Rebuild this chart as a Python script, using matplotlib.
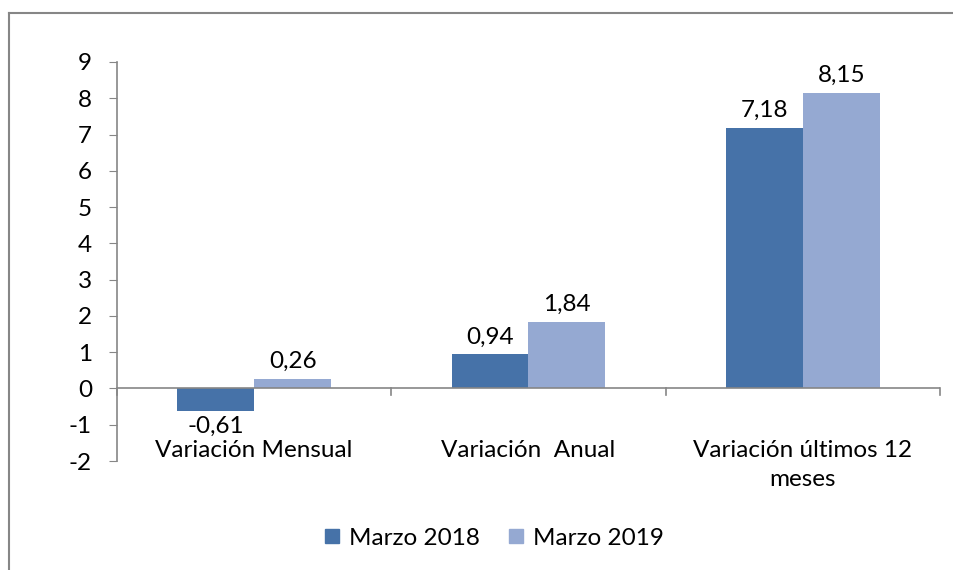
import matplotlib.pyplot as plt
from matplotlib.lines import Line2D
import numpy as np

plt.rcParams['font.family'] = ['Lato', 'DejaVu Sans']
plt.rcParams['axes.unicode_minus'] = False

# Datos
categorias = ['Variación Mensual', 'Variación  Anual', 'Variación últimos 12\nmeses']
marzo_2018 = [-0.61, 0.94, 7.18]
marzo_2019 = [0.26, 1.84, 8.15]
series = ['Marzo 2018', 'Marzo 2019']
colores = ['#4672A8', '#95A9D2']

FS = 17.5

fig = plt.figure(figsize=(9.54, 5.7), dpi=100)
ax = fig.add_axes([117 / 954, 1 - 461 / 570, 823 / 954, 399 / 570])

x = np.arange(len(categorias))
w = 0.28
b1 = ax.bar(x - w / 2, marzo_2018, w, color=colores[0], label=series[0])
b2 = ax.bar(x + w / 2, marzo_2019, w, color=colores[1], label=series[1])

def fmt(v):
    return f'{v:.2f}'.replace('.', ',')

for bars, vals in [(b1, marzo_2018), (b2, marzo_2019)]:
    for r, v in zip(bars, vals):
        cx = r.get_x() + r.get_width() / 2
        if v >= 0:
            ax.annotate(fmt(v), (cx, v), xytext=(0, 5), textcoords='offset points',
                        ha='center', va='bottom', fontsize=FS)
        else:
            ax.annotate(fmt(v), (cx, v), xytext=(0, -4), textcoords='offset points',
                        ha='center', va='top', fontsize=FS)

ax.set_xlim(-0.5, len(categorias) - 0.5)
ax.set_ylim(-2, 9)
ax.set_yticks(range(-2, 10))
ax.tick_params(axis='y', labelsize=FS, length=6, color='#868686', pad=12)
ax.set_xticks([])

for s in ['top', 'right', 'bottom']:
    ax.spines[s].set_visible(False)
ax.spines['left'].set_color('#868686')
ax.spines['left'].set_linewidth(1.2)

# eje de categorias en y=0
ax.axhline(0, color='#868686', lw=1.2, zorder=1)
for xb in np.arange(-0.5, len(categorias), 1.0):
    ax.plot([xb, xb], [0, -0.18], color='#868686', lw=1.2, clip_on=False)

for xi, c in zip(x, categorias):
    ax.text(xi, -1.42, c, ha='center', va='top', fontsize=FS, linespacing=1.45)

handles = [Line2D([], [], marker='s', ls='', markersize=10, color=c) for c in colores]
fig.legend(handles, series, loc='center', bbox_to_anchor=(494 / 954, 1 - 538 / 570),
           ncol=2, frameon=False, fontsize=FS, handlelength=0.6, handletextpad=0.4,
           columnspacing=1.2)

# marco de la figura (solo izquierda y arriba visibles)
fig.add_artist(Line2D([9 / 954, 9 / 954], [0, 1 - 13 / 570], color='#868686', lw=1.5))
fig.add_artist(Line2D([9 / 954, 1], [1 - 13 / 570, 1 - 13 / 570], color='#868686', lw=1.5))

fig.savefig('out.png', dpi=100)
